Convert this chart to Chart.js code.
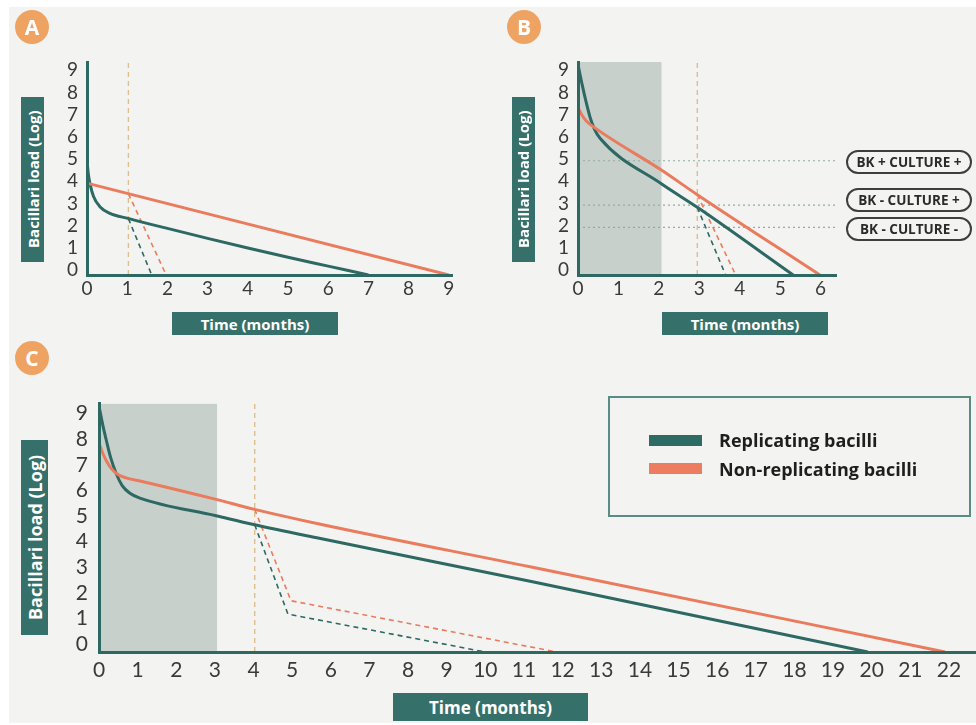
<!DOCTYPE html>
<html>
<head>
<meta charset="utf-8">
<script src="https://cdn.jsdelivr.net/npm/chart.js@4.4.0/dist/chart.umd.min.js"></script>
<style>
body{margin:0;background:#fff;width:976px;height:725px;overflow:hidden;position:relative;font-family:"Open Sans",sans-serif}
#bg{position:absolute;left:9px;top:7px;width:967px;height:716px;background:#f3f3f1}
canvas{position:absolute}
.badge{position:absolute;width:34px;height:34px;border-radius:50%;background:#efa363;color:#fff;font-weight:700;font-size:21px;text-align:center;line-height:34px}
.ytitle,.xtitle{position:absolute;background:#36706b;color:#fff;font-weight:700;display:flex;align-items:center;justify-content:center;white-space:nowrap}
.ytitle{writing-mode:vertical-rl;transform:rotate(180deg)}
.pill{position:absolute;left:846px;width:122px;height:20px;border:2px solid #3e3e3e;border-radius:13px;color:#2b2b2b;font-weight:700;font-size:13.5px;display:flex;align-items:center;justify-content:center;white-space:nowrap}
#legend{position:absolute;left:608px;top:396px;width:359px;height:117px;border:2px solid #5a8c86}
.sw{position:absolute;left:39px;width:53px;height:11px}
.lt{position:absolute;left:109px;font-weight:700;font-size:18px;color:#1e1e1e;white-space:nowrap;line-height:24px}
</style>
</head>
<body>
<div id="bg"></div>
<canvas id="cA" width="440" height="280" style="left:30px;top:40px"></canvas>
<canvas id="cB" width="330" height="280" style="left:520px;top:40px"></canvas>
<canvas id="cC" width="936" height="330" style="left:40px;top:380px"></canvas>

<div class="badge" style="left:15px;top:10px">A</div>
<div class="badge" style="left:507px;top:10px">B</div>
<div class="badge" style="left:15px;top:341px">C</div>

<div class="ytitle" style="left:21px;top:97px;width:23px;height:165px;font-size:15px">Bacillari load (Log)</div>
<div class="ytitle" style="left:512px;top:97px;width:23px;height:165px;font-size:15px">Bacillari load (Log)</div>
<div class="ytitle" style="left:21px;top:440px;width:27px;height:195px;font-size:18px">Bacillari load (Log)</div>

<div class="xtitle" style="left:172px;top:312px;width:166px;height:23px;font-size:15px">Time (months)</div>
<div class="xtitle" style="left:662px;top:312px;width:166px;height:23px;font-size:15px">Time (months)</div>
<div class="xtitle" style="left:393px;top:693px;width:195px;height:28px;font-size:17px">Time (months)</div>

<div class="pill" style="top:150px">BK + CULTURE +</div>
<div class="pill" style="top:188px">BK - CULTURE +</div>
<div class="pill" style="top:217px">BK - CULTURE -</div>

<div id="legend">
  <div class="sw" style="top:37px;background:#2f6b65"></div>
  <div class="lt" style="top:30px">Replicating bacilli</div>
  <div class="sw" style="top:65px;background:#ec7d60"></div>
  <div class="lt" style="top:59px">Non-replicating bacilli</div>
</div>

<script>
const TEAL = "#2d6862";
const ORANGE = "#ea7b5d";
const TAN = "#dcbf8f";
const SHADE = "#c8d0cc";
const DOT = "#93aba7";

const yTicks = [0,1,2,3,4,5,6,7,8,9];
const xTicksA = [0,1,2,3,4,5,6,7,8,9];
const xTicksB = [0,1,2,3,4,5,6];
const xTicksC = [0,1,2,3,4,5,6,7,8,9,10,11,12,13,14,15,16,17,18,19,20,21,22];

// Panel A
const aRepX = [0,0.03,0.07,0.16,0.32,0.57,1.02,2,3,4,5,6,7];
const aRepY = [5.2,4.6,4.15,3.55,3.08,2.78,2.55,2.1,1.65,1.22,0.8,0.4,0];
const aNonX = [0.02,9];
const aNonY = [4.13,0];
const aRepDashX = [1.03,1.61];
const aRepDashY = [2.54,0];
const aNonDashX = [1.03,1.97];
const aNonDashY = [3.66,0];
const aCut = 1.03;

// Panel B
const bRepX = [0,0.1,0.2,0.3,0.4,0.55,2.07,2.95,5.32];
const bRepY = [9.5,8.6,7.8,7.1,6.6,6.15,4.1,3.05,0];
const bNonX = [0,0.1,0.2,0.35,2.07,2.95,5.98];
const bNonY = [7.55,7.2,6.95,6.72,4.72,3.62,0];
const bRepDashX = [2.95,3.65];
const bRepDashY = [3.05,0];
const bNonDashX = [2.95,3.9];
const bNonDashY = [3.62,0];
const bCut = 2.95;
const bShadeEnd = 2.07;
const bLevels = [5.15,3.15,2.15];

// Panel C
const cRepX = [0,0.1,0.2,0.3,0.45,0.6,0.8,1.06,3.03,4,5.7,11.19,19.9];
const cRepY = [9.6,8.85,8.2,7.6,6.95,6.5,6.2,6.01,5.32,4.98,4.44,2.75,0];
const cNonX = [0,0.1,0.19,0.3,0.47,0.7,1.06,3.03,4,5.7,11.19,21.9];
const cNonY = [8.17,7.75,7.47,7.2,6.95,6.8,6.68,5.96,5.58,5.0,3.32,0];
const cRepDashX = [4.03,4.89,10];
const cRepDashY = [4.97,1.48,0];
const cNonDashX = [4.03,4.97,11.85];
const cNonDashY = [5.57,2.0,0];
const cCut = 4.03;
const cShadeEnd = 3.06;

function pts(xs, ys){ return xs.map((x,i)=>({x:x, y:ys[i]})); }

function solid(data,color){
  return {data, borderColor:color, borderWidth:3, pointRadius:0, tension:0.4, cubicInterpolationMode:"monotone", fill:false};
}
function dashed(data,color,w){
  return {data, borderColor:color, borderWidth:w||1.6, borderDash:[5,4], pointRadius:0, tension:0, fill:false};
}
function dotted(data){
  return {data, borderColor:DOT, borderWidth:1.2, borderDash:[2,3], pointRadius:0, tension:0, fill:false};
}
function shade(x1,top){
  return {data:[{x:0,y:top},{x:x1,y:top}], borderWidth:0, pointRadius:0, backgroundColor:SHADE, fill:"origin"};
}

function makePanel(id, cfg){
  const tickFont = {family:"Lato", size:cfg.fontSize, weight:"400"};
  new Chart(document.getElementById(id), {
    type:"line",
    data:{datasets:cfg.datasets},
    options:{
      responsive:false,
      animation:false,
      layout:{padding:{top:cfg.padTop, right:cfg.padRight, left:0, bottom:0}},
      plugins:{legend:{display:false}, tooltip:{enabled:false}},
      scales:{
        x:{
          type:"linear", min:0, max:cfg.xMax,
          afterBuildTicks:s=>{ s.ticks = cfg.xTicks.map(v=>({value:v})); },
          afterFit:s=>{ s.height = cfg.xH; },
          grid:{display:false, drawTicks:false},
          border:{display:true, color:TEAL, width:3, z:1},
          ticks:{font:tickFont, color:"#3a3a3a", padding:cfg.xPad, maxRotation:0, autoSkip:false}
        },
        y:{
          type:"linear", min:0, max:cfg.yMax,
          afterBuildTicks:s=>{ s.ticks = yTicks.map(v=>({value:v})); },
          afterFit:s=>{ s.width = cfg.yW; },
          grid:{display:false, drawTicks:false},
          border:{display:true, color:TEAL, width:3, z:1},
          ticks:{font:tickFont, color:"#3a3a3a", padding:cfg.yPad, labelOffset:cfg.yOff, autoSkip:false}
        }
      }
    }
  });
}

// A
makePanel("cA", {
  xMax:9.08, yMax:9.6, xTicks:xTicksA, fontSize:19,
  padTop:22, padRight:18, xH:45, yW:57, xPad:2, yPad:9, yOff:-5,
  datasets:[
    solid(pts(aNonX,aNonY),ORANGE),
    solid(pts(aRepX,aRepY),TEAL),
    dashed(pts(aRepDashX,aRepDashY),TEAL),
    dashed(pts(aNonDashX,aNonDashY),ORANGE),
    dashed(pts([aCut,aCut],[0,9.6]),TAN,1.4)
  ]
});

// B
makePanel("cB", {
  xMax:6.38, yMax:9.6, xTicks:xTicksB, fontSize:19,
  padTop:22, padRight:14, xH:45, yW:58, xPad:2, yPad:9, yOff:-5,
  datasets:[
    solid(pts(bNonX,bNonY),ORANGE),
    solid(pts(bRepX,bRepY),TEAL),
    dashed(pts(bRepDashX,bRepDashY),TEAL),
    dashed(pts(bNonDashX,bNonDashY),ORANGE),
    dashed(pts([bCut,bCut],[0,9.6]),TAN,1.4),
    ...bLevels.map(l=>dotted(pts([0,6.38],[l,l]))),
    shade(bShadeEnd,9.6)
  ]
});

// C
makePanel("cC", {
  xMax:22.7, yMax:9.7, xTicks:xTicksC, fontSize:21,
  padTop:20, padRight:0, xH:58, yW:59, xPad:6, yPad:11, yOff:-8,
  datasets:[
    solid(pts(cNonX,cNonY),ORANGE),
    solid(pts(cRepX,cRepY),TEAL),
    dashed(pts(cRepDashX,cRepDashY),TEAL),
    dashed(pts(cNonDashX,cNonDashY),ORANGE),
    dashed(pts([cCut,cCut],[0,9.7]),TAN,1.4),
    shade(cShadeEnd,9.7)
  ]
});
</script>
</body>
</html>
